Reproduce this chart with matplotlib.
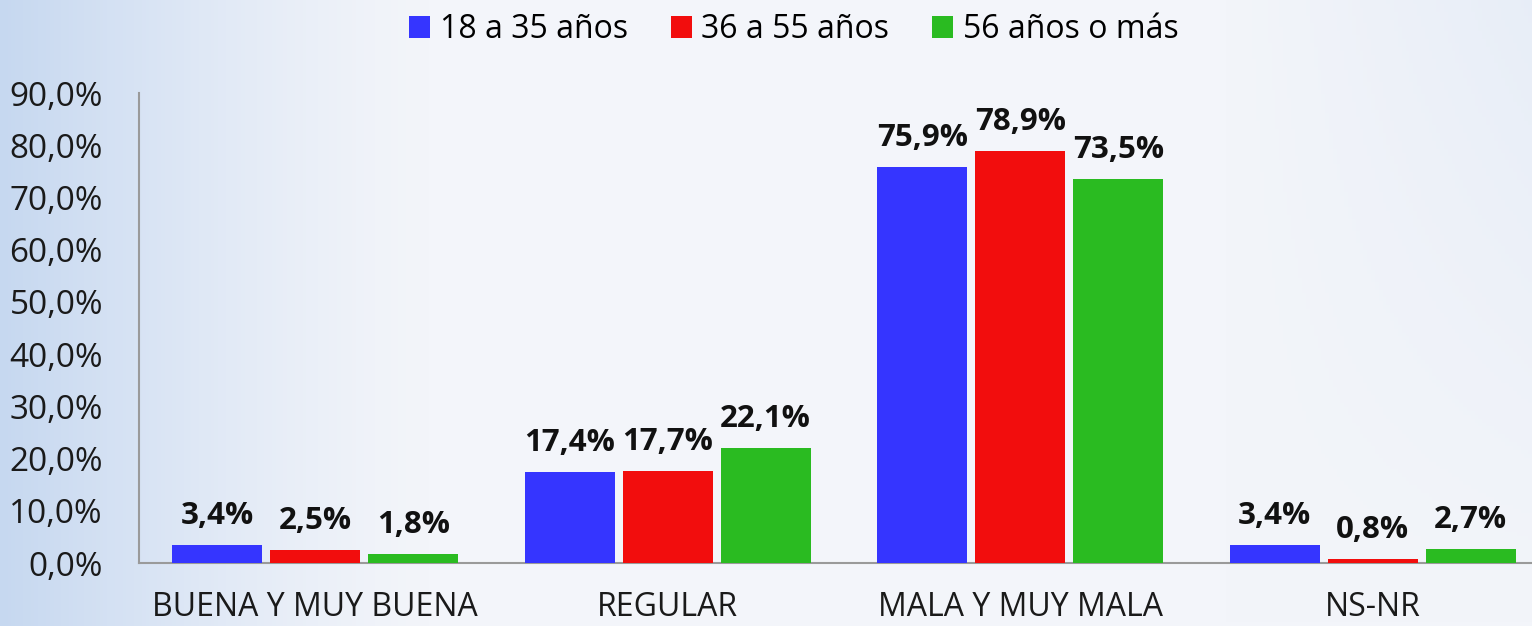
import numpy as np
import matplotlib.pyplot as plt
from matplotlib.ticker import FuncFormatter

# ======================
# Data
# ======================
categories = ["BUENA Y MUY BUENA", "REGULAR", "MALA Y MUY MALA", "NS-NR"]
series_names = ["18 a 35 años", "36 a 55 años", "56 años o más"]
joven = [3.4, 17.4, 75.9, 3.4]
adulto = [2.5, 17.7, 78.9, 0.8]
mayor = [1.8, 22.1, 73.5, 2.7]
y_ticks = [0, 10, 20, 30, 40, 50, 60, 70, 80, 90]

colors = ["#3535FF", "#F20D0D", "#2ABB21"]

plt.rcParams['font.family'] = ['Open Sans', 'DejaVu Sans']

fig = plt.figure(figsize=(15.32, 6.26), dpi=100)

# background gradient (light blue on the left, near white in the middle)
bg = fig.add_axes([0, 0, 1, 1], zorder=-10)
xx = np.linspace(0, 1, 400)
yy = np.linspace(0, 1, 160)
X, Y = np.meshgrid(xx, yy)
t = np.clip(1 - X / 0.28, 0, 1) ** 1.3 + 0.25 * np.clip((X - 0.8) / 0.2, 0, 1) * (1 - Y)
t = np.clip(t, 0, 1)
c0 = np.array([243, 245, 250]) / 255
c1 = np.array([198, 216, 240]) / 255
img = c0[None, None, :] * (1 - t[..., None]) + c1[None, None, :] * t[..., None]
bg.imshow(img, aspect='auto', extent=[0, 1, 0, 1], origin='upper')
bg.axis('off')

# ======================
# Bars
# ======================
ax = fig.add_axes([139 / 1532, 63 / 626, 1 - 139 / 1532, (563 - 93) / 626])
ax.set_facecolor('none')

x = np.arange(len(categories))
offset = 0.278
width = 0.255
for i, (vals, name) in enumerate(zip([joven, adulto, mayor], series_names)):
    pos = x + (i - 1) * offset
    bars = ax.bar(pos, vals, width, color=colors[i], label=name, zorder=3)
    for b, v in zip(bars, vals):
        ax.annotate(f"{v:.1f}%".replace('.', ','),
                    (b.get_x() + b.get_width() / 2, v),
                    xytext=(0, 10), textcoords='offset points',
                    ha='center', va='bottom', fontsize=22.5, fontweight='bold',
                    color='#111111')

ax.set_xlim(-0.5, -0.5 + (1532 - 139) / 352.5)
ax.set_ylim(0, 90)
ax.set_yticks(y_ticks)
ax.yaxis.set_major_formatter(FuncFormatter(lambda v, p: f"{v:.1f}%".replace('.', ',')))
ax.set_xticks(x)
ax.set_xticklabels(categories)
ax.tick_params(axis='y', length=0, pad=26, labelsize=24, labelcolor='#1a1a1a')
ax.tick_params(axis='x', length=0, pad=20, labelsize=23, labelcolor='#1a1a1a')

for s in ['top', 'right']:
    ax.spines[s].set_visible(False)
ax.spines['left'].set_color('#9a9a9a')
ax.spines['bottom'].set_color('#9a9a9a')
ax.spines['left'].set_linewidth(1.5)
ax.spines['bottom'].set_linewidth(1.5)

fig.legend(loc='upper center', bbox_to_anchor=(794 / 1532, 1.025), ncol=3,
           frameon=False, fontsize=23, handlelength=0.65, handleheight=0.7,
           handletextpad=0.3, columnspacing=1.35)

fig.savefig("out.png", dpi=100)
